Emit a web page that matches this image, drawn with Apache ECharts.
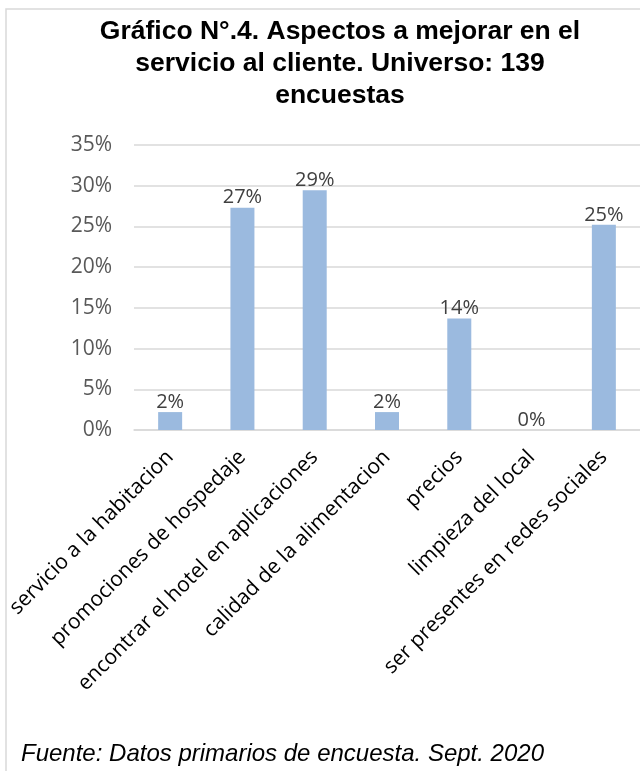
<!DOCTYPE html>
<html>
<head>
<meta charset="utf-8">
<script src="https://cdn.jsdelivr.net/npm/echarts@6/dist/echarts.min.js"></script>
<style>
  html, body { margin: 0; padding: 0; background: #fff; }
  #chart { width: 640px; height: 771px; }
</style>
</head>
<body>
<div id="chart"></div>
<script>
// categorias y valores (%)
const categories = [
  'servicio a la habitacion',
  'promociones de hospedaje',
  'encontrar el hotel en aplicaciones',
  'calidad de la alimentacion',
  'precios',
  'limpieza del local',
  'ser presentes en redes sociales'
]
const values = [2.2, 27.3, 29.45, 2.2, 13.7, 0, 25.2]
const yTicks = [0, 5, 10, 15, 20, 25, 30, 35]

const titleText = 'Gráfico N°.4. Aspectos a mejorar en el\nservicio al cliente. Universo: 139\nencuestas'
const sourceText = 'Fuente: Datos primarios de encuesta. Sept. 2020'

const chart = echarts.init(document.getElementById('chart'), null, { renderer: 'canvas' })

chart.setOption({
  animation: false,
  backgroundColor: '#fff',
  title: {
    text: titleText,
    left: 335,
    top: 11,
    textAlign: 'center',
    textStyle: {
      fontFamily: '"Liberation Sans", Arial, sans-serif',
      fontWeight: 'bold',
      fontSize: 26.5,
      lineHeight: 32,
      color: '#000'
    }
  },
  graphic: [
    {
      type: 'rect',
      shape: { x: 6, y: 9, width: 700, height: 800 },
      style: { fill: 'none', stroke: '#d9d9d9', lineWidth: 1.5 },
      silent: true
    },
    {
      type: 'text',
      left: 21,
      top: 742,
      style: {
        text: sourceText,
        font: 'italic 24px "Liberation Sans", Arial, sans-serif',
        fill: '#000'
      }
    }
  ],
  grid: {
    left: 134,
    right: 0,
    top: 145,
    bottom: 341,
    containLabel: false
  },
  xAxis: {
    type: 'category',
    data: categories,
    axisTick: { show: false },
    axisLine: { lineStyle: { color: '#d9d9d9', width: 1.5 } },
    axisLabel: {
      interval: 0,
      rotate: 45,
      margin: 24,
      fontFamily: '"Open Sans", "Noto Sans", sans-serif',
      fontSize: 21,
      color: '#000'
    }
  },
  yAxis: {
    type: 'value',
    min: yTicks[0],
    max: yTicks[yTicks.length - 1],
    interval: 5,
    axisLine: { show: false },
    axisTick: { show: false },
    splitLine: { lineStyle: { color: '#d9d9d9', width: 1.5 } },
    axisLabel: {
      margin: 22,
      fontFamily: '"Open Sans", "Noto Sans", sans-serif',
      fontSize: 21,
      color: '#595959',
      formatter: v => v + '%'
    }
  },
  series: [
    {
      type: 'bar',
      data: values,
      barWidth: 24,
      itemStyle: { color: '#9bbadf' },
      label: {
        show: true,
        position: 'top',
        distance: 0,
        fontFamily: '"Open Sans", "Noto Sans", sans-serif',
        fontSize: 20,
        color: '#404040',
        formatter: p => Math.round(p.value) + '%'
      }
    }
  ]
})
</script>
</body>
</html>
